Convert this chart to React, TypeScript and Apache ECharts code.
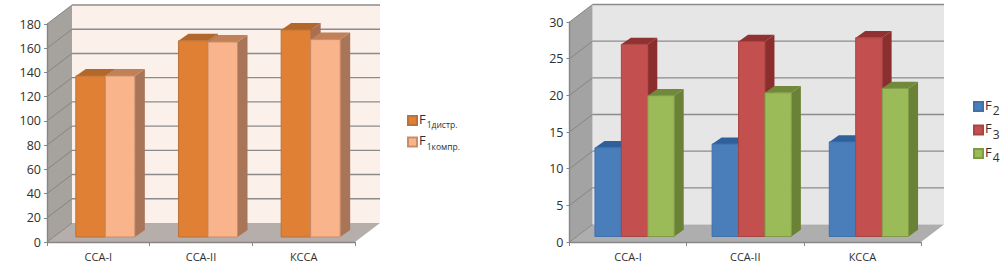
import React, { useEffect, useRef } from "react";
import * as echarts from "echarts";

const categories = ["ССА-I", "ССА-II", "КССА"];
const leftTicksMax = 180;
const leftInterval = 20;
const rightTicksMax = 30;
const rightInterval = 5;
const leftTicks = [0, 20, 40, 60, 80, 100, 120, 140, 160, 180];
const rightTicks = [0, 5, 10, 15, 20, 25, 30];

const f1Distr = [133, 162, 171];
const f1Kompr = [133, 161, 163];
const f2 = [12.1, 12.6, 12.9];
const f3 = [26.2, 26.6, 27.1];
const f4 = [19.2, 19.6, 20.2];

const FONT = "'Open Sans', sans-serif";

type Shade = { front: string; top: string; side: string; edge: string };

const wallSeries = (
  gridIndex: number,
  ticks: number[],
  wall: string,
  floor: string,
  side: string,
  depth: number[],
) => ({
  type: "custom",
  name: "wall" + gridIndex,
  xAxisIndex: gridIndex,
  yAxisIndex: gridIndex,
  silent: true,
  z: 0,
  clip: false,
  data: [[0, 0]],
  encode: { x: 0, y: 1 },
  renderItem: (params: any, api: any) => {
    const c = params.coordSys;
    const [dx, dy] = depth;
    const l = c.x, r = c.x + c.width, t = c.y, b = c.y + c.height;
    const lineStyle = { stroke: "#8b8b8b", lineWidth: 1.4, fill: "none" };
    const children: any[] = [
      { type: "polygon", shape: { points: [[l + dx, t + dy], [r + dx, t + dy], [r + dx, b + dy], [l + dx, b + dy]] }, style: { fill: wall } },
      { type: "polygon", shape: { points: [[l, b], [r, b], [r + dx, b + dy], [l + dx, b + dy]] }, style: { fill: floor } },
      { type: "polygon", shape: { points: [[l, t], [l + dx, t + dy], [l + dx, b + dy], [l, b]] }, style: { fill: side } },
    ];
    ticks.forEach((v, i) => {
      const y = api.coord([0, v])[1];
      if (i > 0) {
        children.push({ type: "line", shape: { x1: l + dx, y1: y + dy, x2: r + dx, y2: y + dy }, style: lineStyle });
      }
      children.push({ type: "line", shape: { x1: l, y1: y, x2: l + dx, y2: y + dy }, style: { ...lineStyle, stroke: "#858585", lineWidth: 1 } });
    });
    return { type: "group", children };
  },
});

const barSeries = (
  gridIndex: number,
  name: string,
  values: number[],
  index: number,
  count: number,
  shade: Shade,
  ratio: number,
  offset: number[],
  depth: number[],
) => ({
  type: "custom",
  name,
  xAxisIndex: gridIndex,
  yAxisIndex: gridIndex,
  z: 2 + index,
  clip: false,
  itemStyle: { color: shade.front, borderColor: shade.edge, borderWidth: 1 },
  data: values.map((v, i) => [i, v]),
  encode: { x: 0, y: 1 },
  renderItem: (_params: any, api: any) => {
    const top = api.coord([api.value(0), api.value(1)]);
    const base = api.coord([api.value(0), 0]);
    const w = api.size([1, 0])[0] * ratio;
    const [ox, oy] = offset;
    const [dx, dy] = depth;
    const x0 = top[0] + ox + (index - count / 2) * w;
    const x1 = x0 + w;
    const yt = top[1] + oy;
    const yb = base[1] + oy;
    return {
      type: "group",
      children: [
        { type: "polygon", shape: { points: [[x1, yt], [x1 + dx, yt + dy], [x1 + dx, yb + dy], [x1, yb]] }, style: { fill: shade.side } },
        { type: "polygon", shape: { points: [[x0, yt], [x0 + dx, yt + dy], [x1 + dx, yt + dy], [x1, yt]] }, style: { fill: shade.top } },
        { type: "rect", shape: { x: x0, y: yt, width: w, height: yb - yt }, style: { fill: shade.front, stroke: shade.edge, lineWidth: 1 } },
      ],
    };
  },
});

const xAxis = (gridIndex: number) => ({
  type: "category",
  gridIndex,
  data: categories,
  axisLine: { lineStyle: { color: "#868686", width: 1.4 } },
  axisTick: { show: true, length: 4, lineStyle: { color: "#868686" } },
  axisLabel: { color: "#303030", fontFamily: FONT, fontSize: 11, margin: 9 },
});

const yAxis = (gridIndex: number, max: number, interval: number) => ({
  type: "value",
  gridIndex,
  min: 0,
  max,
  interval,
  splitLine: { show: false },
  axisLine: { show: true, lineStyle: { color: "#868686", width: 1.4 } },
  axisTick: { show: true, length: 3, lineStyle: { color: "#868686" } },
  axisLabel: { color: "#303030", fontFamily: FONT, fontSize: 12.5, margin: 6 },
});

const rich = {
  f: { fontFamily: FONT, fontSize: 13, color: "#303030", padding: [0, 1, 4, 0] },
  s: { fontFamily: FONT, fontSize: 8.5, color: "#303030", padding: [8, 0, 0, 0] },
  n: { fontFamily: FONT, fontSize: 12, color: "#303030", padding: [8, 0, 0, 0] },
};

const legendOf = (names: string[], left: number, top: number, gap: number, token: string, fmt: (n: string) => string) => ({
  data: names,
  left,
  top,
  orient: "vertical",
  itemWidth: 9,
  itemHeight: 9,
  itemGap: gap,
  padding: 0,
  icon: "rect",
  selectedMode: false,
  formatter: (n: string) => `{f|F}{${token}|${fmt(n)}}`,
  textStyle: { rich, padding: [0, 0, 0, -3] },
});

export default function App() {
  const ref = useRef<HTMLDivElement>(null);
  useEffect(() => {
    const chart = echarts.init(ref.current!, undefined, { renderer: "svg" });
    const depthL = [25, -19];
    const offsetL = [7, -5];
    const depthBarL = [10, -7];
    const depthR = [23, -17.5];
    const offsetR = [6.5, -5.5];
    const depthBarR = [9.5, -6.7];
    const orange: Shade = { front: "#df8035", top: "#b2682b", side: "#a87050", edge: "#b9733a" };
    const peach: Shade = { front: "#f9b48c", top: "#c08158", side: "#a97558", edge: "#c98d68" };
    const blue: Shade = { front: "#4a7ebb", top: "#2f609c", side: "#2f5f98", edge: "#3f70aa" };
    const red: Shade = { front: "#c3504e", top: "#8f3231", side: "#8a2f2e", edge: "#a94442" };
    const green: Shade = { front: "#9bbb59", top: "#70893a", side: "#6a8236", edge: "#7f9a45" };
    chart.setOption({
      animation: false,
      backgroundColor: "#ffffff",
      grid: [
        { left: 47, top: 24, width: 308, height: 218 },
        { left: 569.5, top: 22, width: 351.5, height: 220 },
      ],
      xAxis: [xAxis(0), xAxis(1)],
      yAxis: [yAxis(0, leftTicksMax, leftInterval), yAxis(1, rightTicksMax, rightInterval)],
      legend: [
        legendOf(["F1дистр.", "F1компр."], 407, 112, 4.5, "s", (n) => n.slice(1)),
        legendOf(["F2", "F3", "F4"], 973, 98, 5, "n", (n) => n.slice(1)),
      ],
      series: [
        wallSeries(0, leftTicks, "#fbf0ea", "#b5aeaa", "#a6a29e", depthL),
        barSeries(0, "F1дистр.", f1Distr, 0, 2, orange, 0.2875, offsetL, depthBarL),
        barSeries(0, "F1компр.", f1Kompr, 1, 2, peach, 0.2875, offsetL, depthBarL),
        wallSeries(1, rightTicks, "#e6e6e6", "#aeaeae", "#a3a3a3", depthR),
        barSeries(1, "F2", f2, 0, 3, blue, 0.2255, offsetR, depthBarR),
        barSeries(1, "F3", f3, 1, 3, red, 0.2255, offsetR, depthBarR),
        barSeries(1, "F4", f4, 2, 3, green, 0.2255, offsetR, depthBarR),
      ],
    });
    return () => chart.dispose();
  }, []);
  return <div ref={ref} style={{ position: "absolute", left: 0, top: 0, width: 1004, height: 267 }} />;
}
